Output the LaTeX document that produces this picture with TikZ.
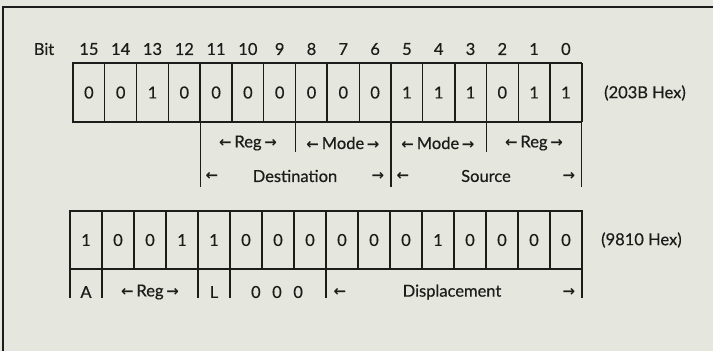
\documentclass[tikz,border=0pt]{standalone}
\usepackage{fontspec}
\setmainfont{Lato}[FakeBold=0.45]
\newfontfamily\arr{DejaVu Sans}[BoldFont={DejaVu Sans Bold}]
\newcommand\la{{\arr\bfseries\fontsize{15}{15}\selectfont ←}}
\newcommand\ra{{\arr\bfseries\fontsize{15}{15}\selectfont →}}
\definecolor{bg}{RGB}{229,230,221}
\definecolor{ink}{RGB}{28,28,26}
\tikzset{
  cellA/.style={draw=ink, line width=1.2pt, minimum width=31.8pt, minimum height=59pt, inner sep=0pt, outer sep=0pt, text=ink, font=\fontsize{16.5}{16.5}\selectfont},
  cellB/.style={cellA, minimum width=32pt, minimum height=58pt},
  txt/.style={text=ink, inner sep=0pt, font=\fontsize{16.5}{16.5}\selectfont},
  arrw/.style={text=ink, inner sep=0pt, font=\arr\bfseries\fontsize{15}{15}\selectfont},
  tick/.style={draw=ink, line width=1.2pt},
  thick line/.style={draw=ink, line width=2pt},
}
\begin{document}
\begin{tikzpicture}[x=1pt,y=-1pt]
\fill[bg] (0,0) rectangle (713,351);
\useasboundingbox (0,0) rectangle (713,351);
\draw[ink, line width=2pt] (3,351) -- (3,7) -- (713,7);
% row 1
\node[txt] (bit) at (44,49) {Bit};
\foreach \v [count=\i from 0] in {0,0,1,0,0,0,0,0,0,0,1,1,1,0,1,1} {
  \pgfmathtruncatemacro\b{15-\i}
  \node[cellA] (a\i) at ({73+31.8*(\i+0.5)},92.5) {\v};
  \node[txt] (n\i) at ({73+31.8*(\i+0.5)},49) {\b};
}
\foreach \k in {0,4,8,12} \draw[thick line] (a\k.north west) -- (a\k.south west);
\draw[thick line] (a15.north east) -- (a15.south east);
\draw[thick line] (a0.north west) -- (a15.north east);
\draw[thick line] (a0.south west) -- (a15.south east);
\node[txt, anchor=west] (hexA) at (604,93) {(203B Hex)};
% field ticks row 1
\draw[tick] (a4.south west) -- ++(0,65);
\draw[tick] (a7.south west) -- ++(0,30);
\draw[tick] (a10.south west) -- ++(0,65);
\draw[tick] (a13.south west) -- ++(0,30);
\draw[tick] (a15.south east) -- ++(0,65);
% field labels row 1
\node[txt] (reg1) at (248,143) {\la\,Reg\,\ra};
\node[txt] (mode1) at (343,143) {\la\,Mode\,\ra};
\node[txt] (mode2) at (438,143) {\la\,Mode\,\ra};
\node[txt] (reg2) at (534,143) {\la\,Reg\,\ra};
\node[arrw] (dl) at (212,176) {←};
\node[txt] (dest) at (295,176) {Destination};
\node[arrw] (dr) at (378,176) {→};
\node[arrw] (sl) at (403,176) {←};
\node[txt] (src) at (486,176) {Source};
\node[arrw] (sr) at (569,176) {→};
% row 2
\foreach \v [count=\i from 0] in {1,0,0,1,1,0,0,0,0,0,0,1,0,0,0,0} {
  \node[cellB] (b\i) at ({70+32*(\i+0.5)},240) {\v};
}
\foreach \k in {0,4,8,12} \draw[thick line] (b\k.north west) -- (b\k.south west);
\draw[thick line] (b15.north east) -- (b15.south east);
\draw[thick line] (b0.north west) -- (b15.north east);
\draw[thick line] (b0.south west) -- (b15.south east);
\node[txt, anchor=west] (hexB) at (601,240) {(9810 Hex)};
\foreach \k in {0,1,4,5,8} \draw[tick] (b\k.south west) -- ++(0,29);
\draw[tick] (b15.south east) -- ++(0,29);
\node[txt] (fa) at (86,292) {A};
\node[txt] (freg) at (150,292) {\la\,Reg\,\ra};
\node[txt] (fl) at (214,292) {L};
\node[txt] (fz) at (277,292) {0\hspace{0.7em}0\hspace{0.7em}0};
\node[arrw] (xl) at (340,292) {←};
\node[txt] (disp) at (452,292) {Displacement};
\node[arrw] (xr) at (569,292) {→};
\end{tikzpicture}
\end{document}
